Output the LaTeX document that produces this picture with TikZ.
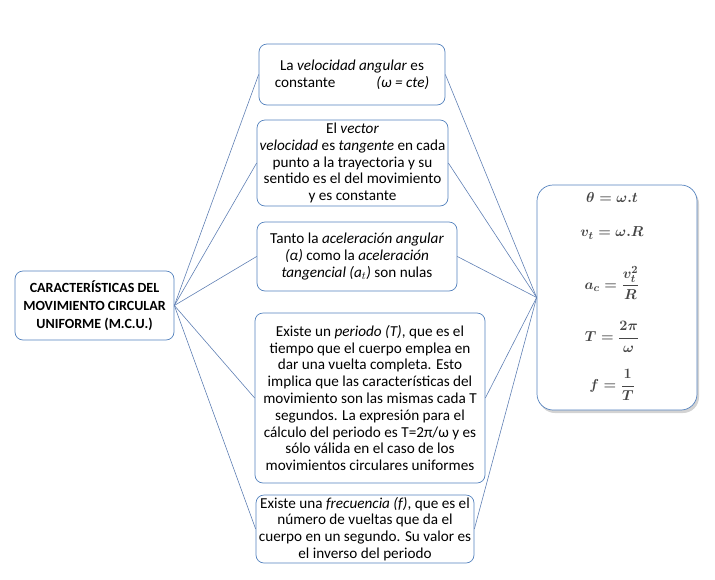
\documentclass[tikz,border=0pt]{standalone}
\usepackage{amsmath}
\usepackage{fontspec}
\setmainfont{Carlito}
\usetikzlibrary{shadows}
\definecolor{boxblue}{RGB}{84,130,190}
\definecolor{linkblue}{RGB}{96,128,180}
\definecolor{mathgray}{RGB}{70,70,70}
\tikzset{
  cbox/.style={draw=boxblue, line width=0.7pt, rounded corners=8pt, align=center,
    inner sep=2pt, fill=white, font=\fontsize{15.2}{16.8}\selectfont},
  link/.style={draw=linkblue, line width=0.6pt},
  formula/.style={text=mathgray, font=\fontsize{15.5}{18}\selectfont\boldmath}
}
\begin{document}
\begin{tikzpicture}[x=1pt,y=-1pt]
                \useasboundingbox (0,0) rectangle (715,579);

                % main box
                \node[cbox, minimum width=159pt, minimum height=69pt, font=\fontsize{14}{18}\selectfont\bfseries]
                      (mcu) at (94.5,305.5) {CARACTERÍSTICAS DEL\\MOVIMIENTO CIRCULAR\\UNIFORME (M.C.U.)};

                % characteristics
                \node[cbox, minimum width=186pt, minimum height=61pt] (omega) at (352,74.5)
                      {La \textit{velocidad angular} es\\constante\hspace{2.7em}\textit{(ω = cte)}};
                \node[cbox, minimum width=191pt, minimum height=86pt] (vect) at (352.5,163)
                      {El \textit{vector}\\\textit{velocidad} es \textit{tangente} en cada\\punto a la trayectoria y su\\sentido es el del movimiento\\y es constante};
                \node[cbox, minimum width=200pt, minimum height=69pt] (acel) at (357,256.5)
                      {Tanto la \textit{aceleración angular}\\\textit{(α)} como la \textit{aceleración}\\\textit{tangencial (a$_t$)} son nulas};
                \node[cbox, minimum width=230pt, minimum height=170pt] (period) at (370,398)
                      {Existe un \textit{periodo (T)}, que es el\\tiempo que el cuerpo emplea en\\dar una vuelta completa. Esto\\implica que las características del\\movimiento son las mismas cada T\\segundos. La expresión para el\\cálculo del periodo es T=2π/ω y es\\sólo válida en el caso de los\\movimientos circulares uniformes};
                \node[cbox, minimum width=218pt, minimum height=68pt] (freq) at (365,529)
                      {Existe una \textit{frecuencia (f)}, que es el\\número de vueltas que da el\\cuerpo en un segundo. Su valor es\\el inverso del periodo};

                % formulas
                \node[cbox, minimum width=160pt, minimum height=225pt, rounded corners=16pt,
                      drop shadow={shadow xshift=2pt, shadow yshift=-3pt, opacity=0.35}] (forms) at (617,297.5) {};
                \node[formula] (f1) at (612,197) {$\theta = \omega.t$};
                \node[formula] (f2) at (612,233) {$v_t = \omega.R$};
                \node[formula] (f3) at (612,283) {$a_c = \dfrac{v_t^2}{R}$};
                \node[formula] (f4) at (612,337) {$T = \dfrac{2\pi}{\omega}$};
                \node[formula] (f5) at (612,385) {$f = \dfrac{1}{T}$};

                % connectors
                \foreach \n in {omega,vect,acel,period,freq}
                {
                  \draw[link] (mcu.east) -- (\n.west);
                  \draw[link] (\n.east) -- (forms.west);
                }
\end{tikzpicture}
\end{document}
